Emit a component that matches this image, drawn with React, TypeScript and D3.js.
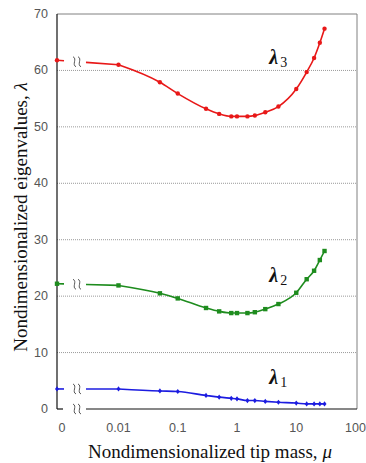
import React from 'react';
import * as d3 from 'd3';

// tip mass values (0 is drawn left of the axis break)
const muValues = [0, 0.01, 0.05, 0.1, 0.3, 0.5, 0.8, 1, 1.5, 2, 3, 5, 10, 15, 20, 25, 30];
const lambda1 = [3.55, 3.55, 3.2, 3.1, 2.4, 2.1, 1.9, 1.8, 1.5, 1.5, 1.35, 1.2, 1.05, 0.9, 0.9, 0.9, 0.9];
const lambda2 = [22.2, 21.9, 20.5, 19.6, 17.9, 17.3, 17.0, 17.0, 17.0, 17.15, 17.7, 18.6, 20.6, 23.0, 24.5, 26.4, 28.0];
const lambda3 = [61.8, 61.0, 57.9, 55.9, 53.2, 52.3, 51.85, 51.85, 51.85, 52.0, 52.6, 53.6, 56.7, 59.7, 62.2, 64.9, 67.4];

const xTickValues = [0.01, 0.1, 1, 10, 100];
const xTickLabels = ['0.01', '0.1', '1', '10', '100'];
const yTickValues = [0, 10, 20, 30, 40, 50, 60, 70];

const series = [
  { name: '1', values: lambda1, color: '#1c1ce0', marker: 'diamond', labelMu: 10, labelY: 4.5 },
  { name: '2', values: lambda2, color: '#1e8c1e', marker: 'square', labelMu: 10, labelY: 22.5 },
  { name: '3', values: lambda3, color: '#e81818', marker: 'circle', labelMu: 10, labelY: 61.2 },
];

const W = 366;
const H = 463;
const left = 57;
const right = 357;
const top = 14;
const bottom = 409;
const breakStart = 64;
const breakEnd = 86;

export default function App() {
  const xLog = d3.scaleLog().domain([0.01, 100]).range([118.5, 355.5]);
  const y = d3.scaleLinear().domain([0, 70]).range([bottom, top]);
  const xPos = (v: number) => (v === 0 ? left : xLog(v));

  const line = d3
    .line<number>()
    .x((_, i) => xLog(muValues[i + 1]))
    .y((d) => y(d))
    .curve(d3.curveMonotoneX);

  const serif = '"Liberation Serif", "DejaVu Serif", serif';
  const sans = '"Liberation Sans", Arial, sans-serif';

  // two small vertical squiggles marking the axis break
  const breakGlyph = (cx: number, cy: number, key: string) => (
    <g key={key} fill="none" stroke="#444" strokeWidth={0.9}>
      {[-2.5, 2.5].map((dx) => (
        <path
          key={dx}
          d={`M${cx + dx - 1.5},${cy - 5} C${cx + dx + 3},${cy - 3} ${cx + dx - 3},${cy + 3} ${cx + dx + 1.5},${cy + 5}`}
        />
      ))}
    </g>
  );

  return (
    <svg width={W} height={H} style={{ position: 'absolute', left: 0, top: 0, background: '#fff' }}>
      {/* grid */}
      {yTickValues.slice(1, -1).map((t) => (
        <line key={t} x1={left} x2={right} y1={y(t)} y2={y(t)} stroke="#9a9a9a" strokeWidth={1} strokeDasharray="1,1" />
      ))}
      {/* frame */}
      <line x1={left} x2={right} y1={top} y2={top} stroke="#808080" strokeWidth={1} />
      <line x1={right} x2={right} y1={top} y2={bottom} stroke="#808080" strokeWidth={1} />
      <line x1={left} x2={left} y1={top} y2={bottom} stroke="#111" strokeWidth={1.2} />
      <line x1={left} x2={breakStart - 1} y1={bottom} y2={bottom} stroke="#111" strokeWidth={1.2} />
      <line x1={breakEnd} x2={right} y1={bottom} y2={bottom} stroke="#111" strokeWidth={1.2} />
      {breakGlyph(77, bottom, 'bx')}

      {/* y ticks */}
      {yTickValues.map((t) => (
        <text key={t} x={48} y={y(t)} textAnchor="end" dominantBaseline="central" fontFamily={sans} fontSize={12.5} fill="#555">
          {t}
        </text>
      ))}
      {/* x ticks */}
      <text x={62} y={428} textAnchor="middle" dominantBaseline="central" fontFamily={sans} fontSize={12.5} fill="#555">
        0
      </text>
      {xTickValues.map((t, i) => (
        <text key={t} x={xLog(t)} y={428} textAnchor="middle" dominantBaseline="central" fontFamily={sans} fontSize={12.5} fill="#555">
          {xTickLabels[i]}
        </text>
      ))}

      {/* series */}
      {series.map((s) => {
        const x0 = xPos(muValues[0]);
        const x1 = xPos(muValues[1]);
        const ip = d3.interpolateNumber(s.values[0], s.values[1]);
        const at = (x: number) => y(ip((x - x0) / (x1 - x0)));
        return (
          <g key={s.name}>
            <line x1={x0} y1={y(s.values[0])} x2={breakStart} y2={at(breakStart)} stroke={s.color} strokeWidth={1.6} />
            <line x1={breakEnd} y1={at(breakEnd)} x2={x1} y2={y(s.values[1])} stroke={s.color} strokeWidth={1.6} />
            {breakGlyph(77, at(77), 'b' + s.name)}
            <path d={line(s.values.slice(1)) || ''} fill="none" stroke={s.color} strokeWidth={1.6} />
            {s.values.map((v, i) => {
              const cx = xPos(muValues[i]);
              const cy = y(v);
              if (s.marker === 'circle') return <circle key={i} cx={cx} cy={cy} r={2.2} fill={s.color} />;
              if (s.marker === 'square') return <rect key={i} x={cx - 2.2} y={cy - 2.2} width={4.4} height={4.4} fill={s.color} />;
              return <path key={i} d={`M${cx},${cy - 2.6}L${cx + 2},${cy}L${cx},${cy + 2.6}L${cx - 2},${cy}Z`} fill={s.color} />;
            })}
            <text x={xLog(s.labelMu) - 27} y={y(s.labelY)} fontFamily={serif} fontStyle="italic" fontWeight="bold" fontSize={20} fill="#111">
              λ
              <tspan fontStyle="normal" fontWeight="normal" fontSize={14} dx={2} dy={3}>
                {s.name}
              </tspan>
            </text>
          </g>
        );
      })}

      {/* axis titles */}
      <text x={210} y={451} textAnchor="middle" dominantBaseline="central" fontFamily={serif} fontSize={19} fill="#111">
        Nondimensionalized tip mass, <tspan fontStyle="italic">μ</tspan>
      </text>
      <text
        x={0}
        y={0}
        transform={`translate(20, 217) rotate(-90)`}
        textAnchor="middle"
        dominantBaseline="central"
        fontFamily={serif}
        fontSize={19}
        fill="#111"
      >
        Nondimensionalized eigenvalues, <tspan fontStyle="italic">λ</tspan>
      </text>
    </svg>
  );
}
